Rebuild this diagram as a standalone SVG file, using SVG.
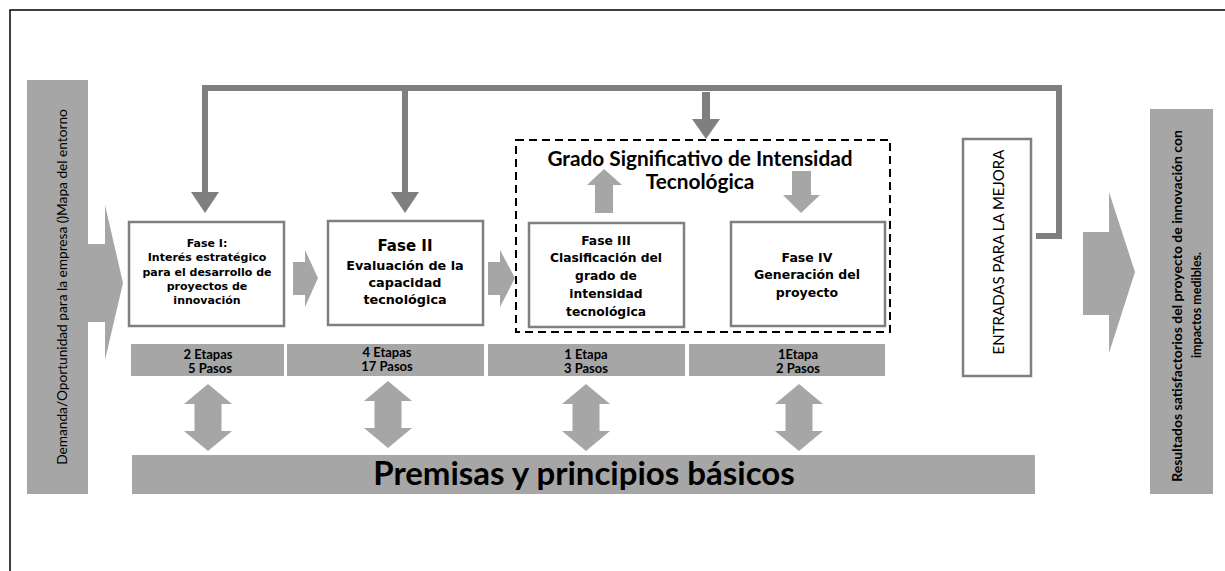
<svg xmlns="http://www.w3.org/2000/svg" width="1225" height="571" viewBox="0 0 1225 571">
<defs>
<style>
.bar{fill:#a6a6a6}
.box{fill:#fff;stroke:#7f7f7f;stroke-width:2.5}
.fb{fill:none;stroke:#7f7f7f;stroke-width:6}
.fbh{fill:#7f7f7f}
.fase{font-family:"DejaVu Sans",Verdana,sans-serif;font-weight:bold;fill:#000;text-anchor:middle}
.cal{font-family:Lato,"Liberation Sans",sans-serif;fill:#000;text-anchor:middle}
.b{font-weight:bold}
</style>
<path id="dbl" d="M0,0 L24,20 L13.5,20 L13.5,47 L24,47 L0,67 L-24,47 L-13.5,47 L-13.5,20 L-24,20 Z"/>
</defs>
<rect width="1225" height="571" fill="#fff"/>
<rect x="10" y="10" width="1240" height="600" fill="none" stroke="#000" stroke-width="1.5"/>

<g id="input">
<rect class="bar" x="27" y="80" width="61" height="414"/>
<polygon class="bar" points="88,244 105,244 105,205 123,283 105,360 105,322 88,322"/>
<text class="cal" font-size="13.7" transform="translate(62,287) rotate(-90)" dy="0.35em">Demanda/Oportunidad para la empresa ()Mapa del entorno</text>
</g>

<g id="connectors">
<path class="fb" d="M205,193 V88 H1059 V236 H1036"/>
<path class="fb" d="M405,88 V193"/>
<polygon class="fbh" points="191,192 219,192 205,213"/>
<polygon class="fbh" points="391,192 419,192 405,213"/>
<rect class="fbh" x="702" y="92" width="8" height="28"/>
<polygon class="fbh" points="692,119 720,119 706,139"/>
<polygon class="bar" points="293,262 305,262 305,250 318,278 305,307 305,295 293,295"/>
<polygon class="bar" points="488,262 500,262 500,250 515,278 500,307 500,295 488,295"/>
<polygon class="bar" points="595,213 595,185 587,185 604,169 622,185 613,185 613,213"/>
<polygon class="bar" points="792,171 811,171 811,195 820,195 801,213 783,195 792,195"/>
<use href="#dbl" class="bar" x="208" y="384"/>
<use href="#dbl" class="bar" x="388" y="381"/>
<use href="#dbl" class="bar" x="586" y="384"/>
<use href="#dbl" class="bar" x="799" y="384"/>
<polygon class="bar" points="1083,232 1109,232 1109,192 1135,272 1109,353 1109,315 1083,315"/>
</g>

<g id="fase1">
<rect class="box" x="129" y="222" width="155" height="104"/>
<text class="fase" font-size="11"><tspan x="207" y="247">Fase I:</tspan><tspan x="207" y="261">Interés estratégico</tspan><tspan x="207" y="276">para el desarrollo de</tspan><tspan x="207" y="290">proyectos de</tspan><tspan x="207" y="304">innovación</tspan></text>
</g>

<g id="fase2">
<rect class="box" x="328" y="221" width="155" height="104"/>
<text class="fase" font-size="15" x="405" y="251">Fase II</text>
<text class="fase" font-size="12.8"><tspan x="405" y="270">Evaluación de la</tspan><tspan x="405" y="287">capacidad</tspan><tspan x="405" y="304">tecnológica</tspan></text>
</g>

<g id="grado">
<rect x="516" y="140" width="374" height="192" fill="none" stroke="#000" stroke-width="2" stroke-dasharray="8,5"/>
<text class="cal b" font-size="20.8"><tspan x="700" y="166">Grado Significativo de Intensidad</tspan><tspan x="700" y="189">Tecnológica</tspan></text>
</g>

<g id="fase3">
<rect class="box" x="529" y="223" width="155" height="104"/>
<text class="fase" font-size="12.3"><tspan x="606" y="245">Fase III</tspan><tspan x="606" y="262">Clasificación del</tspan><tspan x="606" y="280">grado de</tspan><tspan x="606" y="298">intensidad</tspan><tspan x="606" y="316">tecnológica</tspan></text>
</g>

<g id="fase4">
<rect class="box" x="731" y="222" width="154" height="104"/>
<text class="fase" font-size="12.5"><tspan x="807" y="262">Fase IV</tspan><tspan x="807" y="279">Generación del</tspan><tspan x="807" y="297">proyecto</tspan></text>
</g>

<g id="etapas">
<rect class="bar" x="131" y="344" width="153" height="32"/>
<rect class="bar" x="287" y="344" width="197" height="32"/>
<rect class="bar" x="488" y="344" width="197" height="32"/>
<rect class="bar" x="689" y="344" width="196" height="32"/>
<text class="cal b" font-size="13"><tspan x="208" y="359">2 Etapas</tspan><tspan x="210" y="373">5 Pasos</tspan></text>
<text class="cal b" font-size="13"><tspan x="387" y="357">4 Etapas</tspan><tspan x="387" y="371">17 Pasos</tspan></text>
<text class="cal b" font-size="13"><tspan x="586" y="359">1 Etapa</tspan><tspan x="586" y="373">3 Pasos</tspan></text>
<text class="cal b" font-size="13"><tspan x="798" y="359">1Etapa</tspan><tspan x="798" y="373">2 Pasos</tspan></text>
</g>

<g id="premisas">
<rect class="bar" x="132" y="455" width="903" height="39"/>
<text class="cal b" font-size="33" x="584" y="485">Premisas y principios básicos</text>
</g>

<g id="entradas">
<rect class="box" x="963" y="139" width="68" height="237" stroke-width="2"/>
<text class="cal" font-size="15" transform="translate(999,252) rotate(-90)" dy="0.35em">ENTRADAS PARA LA MEJORA</text>
</g>

<g id="resultados">
<rect class="bar" x="1150" y="109" width="63" height="385"/>
<text class="cal b" font-size="14" transform="translate(1177,306) rotate(-90)" dy="0.35em">Resultados satisfactorios  del proyecto de innovación con</text>
<text class="cal b" font-size="12.5" transform="translate(1197,305) rotate(-90)" dy="0.35em">impactos medibles.</text>
</g>
</svg>
